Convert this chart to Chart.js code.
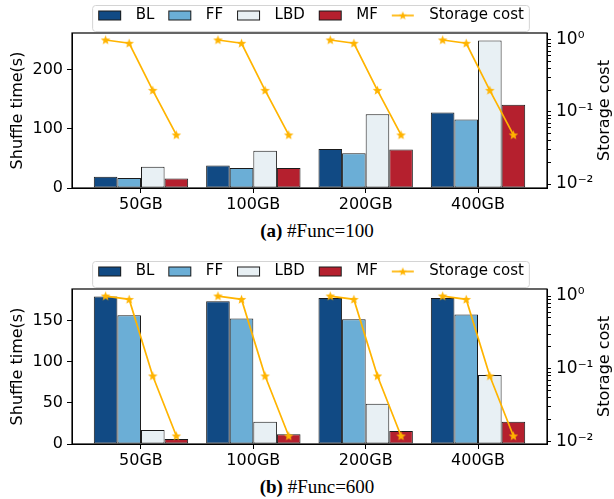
<!DOCTYPE html>
<html>
<head>
<meta charset="utf-8">
<script src="https://cdn.jsdelivr.net/npm/chart.js@4.4.0/dist/chart.umd.min.js"></script>
<style>
  body { margin: 0; background: #fff; width: 614px; height: 499px; position: relative; overflow: hidden; }
  .panel { position: absolute; left: 0; width: 614px; height: 216px; }
  .cap { position: absolute; left: 10px; width: 614px; text-align: center; font-family: 'Liberation Serif', serif; font-size: 19px; line-height: 22px; color: #000; }
</style>
</head>
<body>
<div class="panel" style="top:0"><canvas id="chartA" width="614" height="216"></canvas></div>
<div class="cap" style="top:220px"><b>(a)</b> #Func=100</div>
<div class="panel" style="top:256px"><canvas id="chartB" width="614" height="216"></canvas></div>
<div class="cap" style="top:476px"><b>(b)</b> #Func=600</div>
<script>
const sizes = ['50GB', '100GB', '200GB', '400GB'];
const methods = ['BL', 'FF', 'LBD', 'MF'];
const methodColors = ['#114a84', '#6baed6', '#e8f0f4', '#b5202e'];
const edgeColor = '#1a1a1a';
const costColor = '#ffb400';

// (a) #Func=100
const blA = [19, 38, 66, 128];
const ffA = [17, 34, 59, 116];
const lbdA = [36, 63, 125, 250];
const mfA = [16, 34, 65, 141];
const costA = [1.0, 0.9, 0.2, 0.048];

// (b) #Func=600
const blB = [180, 174, 178, 178];
const ffB = [157, 153, 152, 158];
const lbdB = [17, 27, 49, 84];
const mfB = [6, 12, 16, 27];
const costB = [1.0, 0.9, 0.08, 0.012];

const shuffleTicksA = [0, 100, 200];
const shuffleTicksB = [0, 50, 100, 150];
const costTicks = [0.01, 0.1, 1];
const costTickLabels = ['10⁻²', '10⁻¹', '10⁰'];
const minorSteps = [2, 3, 4, 5, 6, 7, 8, 9];

const barW = 0.21; // width of one bar in group units

Chart.defaults.font.family = 'DejaVu Sans';
Chart.defaults.font.size = 16;
Chart.defaults.color = '#000';

function makeCanvas(w, h, draw) {
    const c = document.createElement('canvas');
    c.width = w; c.height = h;
    draw(c.getContext('2d'));
    return c;
}

function starPath(ctx, cx, cy, r) {
    ctx.beginPath();
    for (let k = 0; k < 10; k++) {
        const rr = k % 2 ? r * 0.42 : r;
        const a = -Math.PI / 2 + k * Math.PI / 5;
        ctx.lineTo(cx + rr * Math.cos(a), cy + rr * Math.sin(a));
    }
    ctx.closePath();
}

const starImg = makeCanvas(11, 11, ctx => {
    starPath(ctx, 5.5, 5.8, 5);
    ctx.fillStyle = costColor;
    ctx.fill();
});

// legend swatches: 8px lead, 22px mark, 8px tail
const swatches = methodColors.map(col => makeCanvas(38, 12, ctx => {
    ctx.fillStyle = col;
    ctx.fillRect(8.5, 1.5, 22, 9);
    ctx.strokeStyle = edgeColor;
    ctx.lineWidth = 1;
    ctx.strokeRect(8.5, 1.5, 22, 9);
}));
swatches.push(makeCanvas(38, 12, ctx => {
    ctx.strokeStyle = costColor;
    ctx.lineWidth = 1.7;
    ctx.beginPath(); ctx.moveTo(8, 6); ctx.lineTo(30, 6); ctx.stroke();
    starPath(ctx, 19, 6.3, 4.5);
    ctx.fillStyle = costColor;
    ctx.fill();
}));

function costPoints(cost) {
    const pts = [];
    sizes.forEach((_, g) => {
        cost.forEach((c, i) => pts.push({ x: g + (i - (cost.length - 1) / 2) * barW, y: c }));
        pts.push({ x: g + 0.5, y: null });
    });
    return pts;
}

const decorations = {
    id: 'decorations',
    afterDraw(chart) {
        const { ctx, chartArea: a, legend } = chart;
        ctx.save();
        const hb = legend.legendHitBoxes;
        const first = hb[0], last = hb[hb.length - 1];
        const x0 = first.left + 2, x1 = last.left + last.width + 5;
        ctx.strokeStyle = '#d4d4d4';
        ctx.lineWidth = 1;
        ctx.beginPath();
        ctx.roundRect(x0 + 0.5, 5.5, x1 - x0, 26, 3);
        ctx.stroke();

        ctx.strokeStyle = '#000';
        ctx.lineWidth = 1.2;
        ctx.strokeRect(a.left, a.top, a.right - a.left, a.bottom - a.top);

        ctx.fillStyle = '#000';
        ctx.font = '16px "DejaVu Sans"';
        ctx.translate(605, (a.top + a.bottom) / 2);
        ctx.rotate(-Math.PI / 2);
        ctx.textAlign = 'center';
        ctx.textBaseline = 'middle';
        ctx.fillText('Storage cost', 0, 0);
        ctx.restore();
    }
};

function makeChart(id, series, cost, shuffleMax, shuffleTicks, costRange) {
    const bars = series.map((vals, i) => ({
        type: 'bar',
        label: methods[i],
        data: vals.map((v, g) => ({ x: g, y: v })),
        backgroundColor: methodColors[i],
        borderColor: edgeColor,
        borderWidth: 1,
        borderSkipped: false,
        categoryPercentage: barW * methods.length,
        barPercentage: 1,
        yAxisID: 'y',
        order: 1
    }));
    const line = {
        type: 'line',
        label: 'Storage cost',
        data: costPoints(cost),
        borderColor: costColor,
        backgroundColor: costColor,
        borderWidth: 1.7,
        pointStyle: starImg,
        pointRadius: 5,
        spanGaps: false,
        yAxisID: 'y2',
        order: 0
    };
    const minorTicks = [];
    costTicks.forEach(d => minorSteps.forEach(k => minorTicks.push(d * k)));
    const allCostTicks = costTicks.concat(minorTicks)
        .filter(v => v >= costRange[0] && v <= costRange[1]);

    return new Chart(document.getElementById(id), {
        type: 'bar',
        data: { datasets: bars.concat([line]) },
        options: {
            responsive: false,
            animation: false,
            layout: { padding: { top: 2, left: 0, right: 0, bottom: 0 } },
            plugins: {
                tooltip: { enabled: false },
                legend: {
                    position: 'top',
                    labels: {
                        usePointStyle: true,
                        pointStyleWidth: 38,
                        padding: 6,
                        font: { size: 15 },
                        color: '#000',
                        generateLabels: chart => chart.data.datasets.map((ds, i) => ({
                            text: ds.label,
                            pointStyle: swatches[i],
                            datasetIndex: i,
                            hidden: false,
                            lineWidth: 0
                        }))
                    }
                }
            },
            scales: {
                x: {
                    type: 'linear',
                    offset: false,
                    min: -0.614,
                    max: 3.614,
                    afterBuildTicks: s => { s.ticks = sizes.map((_, i) => ({ value: i })); },
                    afterFit: s => { s.height = 28; },
                    ticks: { callback: v => sizes[Math.round(v)], autoSkip: false, maxRotation: 0, padding: 2 },
                    grid: { offset: false, drawOnChartArea: false, tickLength: 5, color: '#000' },
                    border: { color: '#000' }
                },
                y: {
                    position: 'left',
                    min: 0,
                    max: shuffleMax,
                    afterBuildTicks: s => { s.ticks = shuffleTicks.map(v => ({ value: v })); },
                    afterFit: s => { s.width = 72; },
                    title: { display: true, text: 'Shuffle time(s)', font: { size: 16 }, padding: { top: 8, bottom: 0 } },
                    ticks: { padding: 4 },
                    grid: { drawOnChartArea: false, tickLength: 5, color: '#000' },
                    border: { color: '#000' }
                },
                y2: {
                    type: 'logarithmic',
                    position: 'right',
                    min: costRange[0],
                    max: costRange[1],
                    afterBuildTicks: s => { s.ticks = allCostTicks.map(v => ({ value: v })); },
                    afterFit: s => { s.width = 67; },
                    ticks: {
                        autoSkip: false,
                        padding: 5,
                        font: { size: 17 },
                        callback: v => {
                            const i = costTicks.indexOf(v);
                            return i >= 0 ? costTickLabels[i] : '';
                        }
                    },
                    grid: { drawOnChartArea: false, tickLength: 4, color: '#000' },
                    border: { color: '#000' }
                }
            }
        },
        plugins: [decorations]
    });
}

makeChart('chartA', [blA, ffA, lbdA, mfA], costA, 262.5, shuffleTicksA, [0.0088, 1.25]);
makeChart('chartB', [blB, ffB, lbdB, mfB], costB, 189, shuffleTicksB, [0.0093, 1.25]);
</script>
</body>
</html>
